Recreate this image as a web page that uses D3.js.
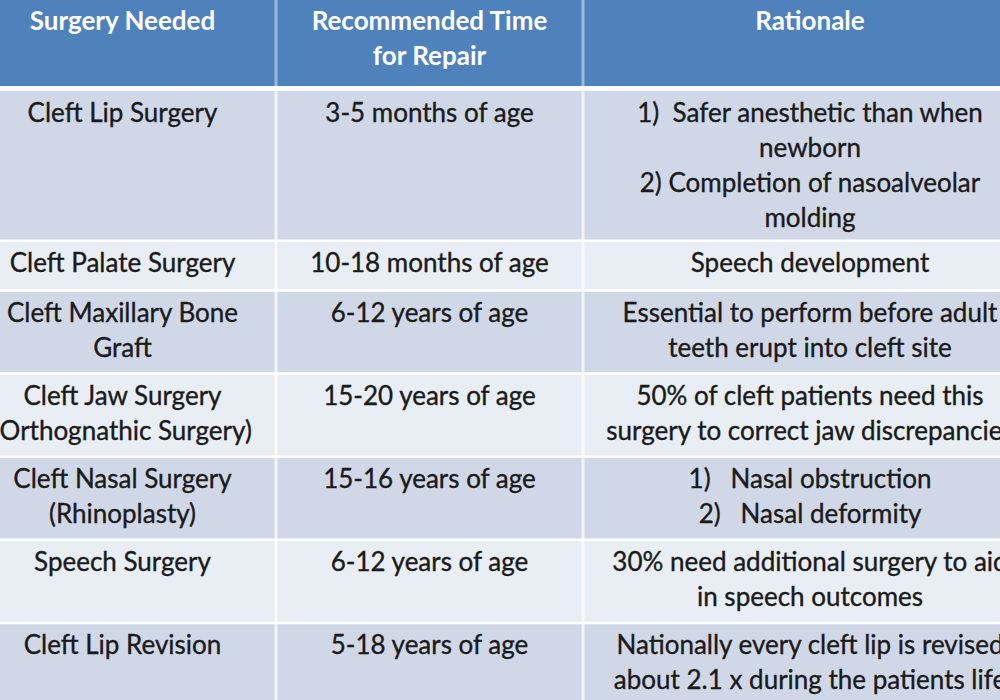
<!DOCTYPE html>
<html>
<head>
<meta charset="utf-8">
<script src="https://cdn.jsdelivr.net/npm/d3@7"></script>
<style>
  html, body { margin: 0; padding: 0; background: #fff; overflow: hidden; }
  #table-wrap { width: 1000px; height: 700px; }
  text { white-space: pre; }
</style>
</head>
<body>
<div id="table-wrap"></div>
<script>
// table content
var headers    = [["Surgery Needed"], ["Recommended Time", "for Repair"], ["Rationale"]];
var surgeries  = [
    ["Cleft Lip Surgery"],
    ["Cleft Palate Surgery"],
    ["Cleft Maxillary Bone", "Graft"],
    ["Cleft Jaw Surgery", "(Orthognathic Surgery)"],
    ["Cleft Nasal Surgery", "(Rhinoplasty)"],
    ["Speech Surgery"],
    ["Cleft Lip Revision"]
];
var repairTimes = [
    ["3-5 months of age"],
    ["10-18 months of age"],
    ["6-12 years of age"],
    ["15-20 years of age"],
    ["15-16 years of age"],
    ["6-12 years of age"],
    ["5-18 years of age"]
];
var rationales = [
    ["1)  Safer anesthetic than when", "newborn", "2) Completion of nasoalveolar", "molding"],
    ["Speech development"],
    ["Essential to perform before adult", "teeth erupt into cleft site"],
    ["50% of cleft patients need this", "surgery to correct jaw discrepancies"],
    ["1)   Nasal obstruction", "2)   Nasal deformity"],
    ["30% need additional surgery to aid", "in speech outcomes"],
    ["Nationally every cleft lip is revised", "about 2.1 x during the patients life"]
];

(function () {
    var W = 1000, H = 700;
    var HEADER_H  = 86;
    var LINE_H    = 35;
    var FONT      = "Lato, 'Open Sans', sans-serif";
    var FONT_SIZE = 26;

    // column edges run past the picture on both sides (table is cropped)
    var colEdges = [-31, 276, 583, 1037];

    var rows = surgeries.map(function (s, i) {
        return { cells: [s, repairTimes[i], rationales[i]] };
    });

    // row height follows the tallest cell
    var y = HEADER_H + 5;
    rows.forEach(function (r) {
        var n = d3.max(r.cells, function (c) { return c.length; });
        r.top = y;
        r.h = 16.5 + 33.3 * n;
        y += r.h;
    });

    var svg = d3.select("#table-wrap").append("svg")
        .attr("width", W).attr("height", H)
        .style("font-family", FONT);

    svg.append("rect").attr("width", W).attr("height", H).attr("fill", "#fff");

    // header
    headers.forEach(function (lines, c) {
        var x0 = colEdges[c], x1 = colEdges[c + 1];
        svg.append("rect")
            .attr("x", x0).attr("y", 0)
            .attr("width", x1 - x0).attr("height", HEADER_H)
            .attr("fill", "#4F81BD");
        svg.append("g").selectAll("text").data(lines).enter().append("text")
            .attr("x", (x0 + x1) / 2)
            .attr("y", function (d, i) { return 30 + i * LINE_H; })
            .attr("text-anchor", "middle")
            .attr("fill", "#fff")
            .style("font-size", FONT_SIZE + "px")
            .style("font-weight", "bold")
            .text(function (d) { return d; });
    });

    // body rows
    var rowG = svg.selectAll(".row").data(rows).enter().append("g").attr("class", "row");

    rowG.each(function (r, ri) {
        var g = d3.select(this);
        var fill = ri % 2 === 0 ? "#D0D8E8" : "#E9EDF4";
        r.cells.forEach(function (lines, c) {
            var x0 = colEdges[c], x1 = colEdges[c + 1];
            g.append("rect")
                .attr("x", x0).attr("y", r.top)
                .attr("width", x1 - x0).attr("height", r.h)
                .attr("fill", fill);
            g.append("g").selectAll("text").data(lines).enter().append("text")
                .attr("x", (x0 + x1) / 2)
                .attr("y", function (d, i) { return r.top + 31 + i * LINE_H; })
                .attr("text-anchor", "middle")
                .attr("fill", "#1a1a1a")
                .attr("stroke", "#1a1a1a")
                .attr("stroke-width", 0.35)
                .style("font-size", FONT_SIZE + "px")
                .text(function (d) { return d; });
        });
    });

    // white grid lines
    var grid = svg.append("g").attr("class", "grid");
    colEdges.slice(1, -1).forEach(function (x) {
        grid.append("line")
            .attr("x1", x).attr("x2", x)
            .attr("y1", 0).attr("y2", HEADER_H)
            .attr("stroke", "#fff").attr("stroke-opacity", 0.45).attr("stroke-width", 3);
        grid.append("line")
            .attr("x1", x).attr("x2", x)
            .attr("y1", HEADER_H).attr("y2", H)
            .attr("stroke", "#fff").attr("stroke-opacity", 0.7).attr("stroke-width", 3);
    });
    grid.append("rect")
        .attr("x", 0).attr("y", HEADER_H)
        .attr("width", W).attr("height", 5)
        .attr("fill", "#fff");
    rows.slice(1).forEach(function (r) {
        grid.append("line")
            .attr("x1", 0).attr("x2", W)
            .attr("y1", r.top).attr("y2", r.top)
            .attr("stroke", "#fff").attr("stroke-width", 2.5);
    });
}());
</script>
</body>
</html>
